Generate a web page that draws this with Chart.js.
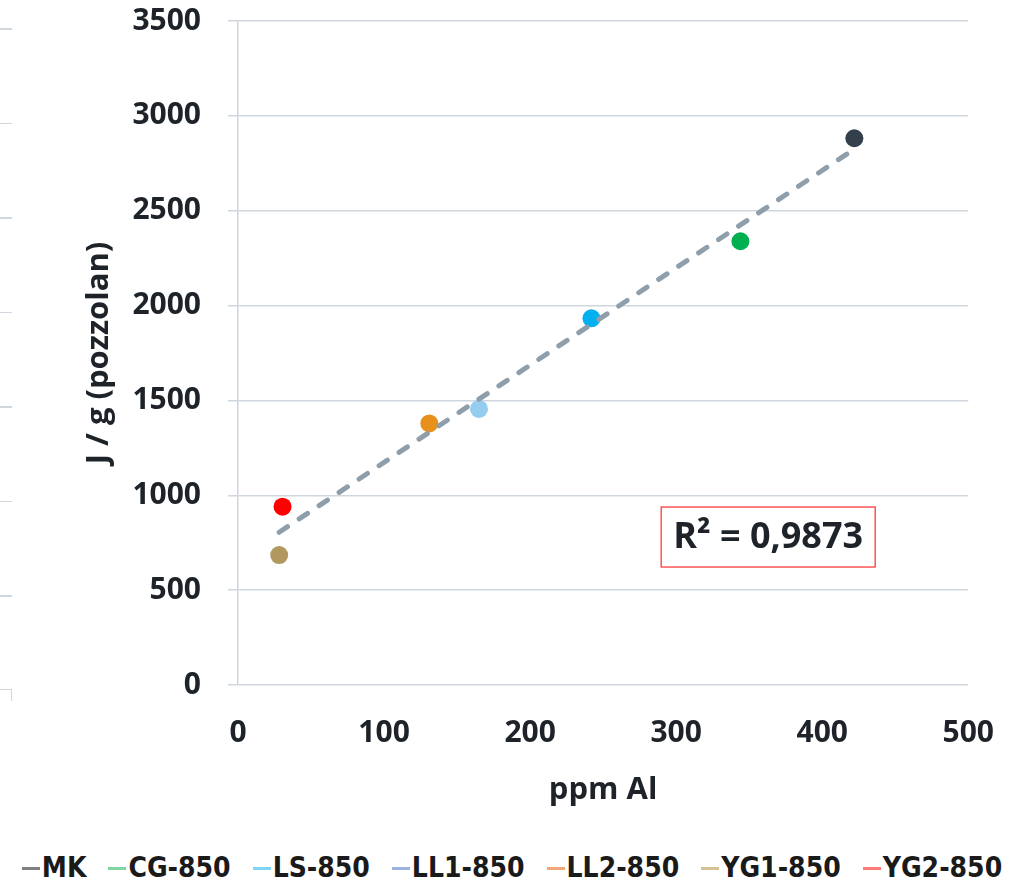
<!DOCTYPE html>
<html>
<head>
<meta charset="utf-8">
<script src="https://cdn.jsdelivr.net/npm/chart.js@4/dist/chart.umd.min.js"></script>
<style>
  body { margin: 0; background: #fff; }
  #wrap { position: relative; width: 1024px; height: 887px; overflow: hidden; }
  #chart { position: absolute; left: 0; top: -24px; }
  /* edge of the neighbouring panel */
  #edge { position: absolute; left: 0; top: 28px; width: 12px; height: 662px;
          background: repeating-linear-gradient(to bottom, #cfd6dd 0 1.5px, transparent 1.5px 94.5px); }
  #edge-corner { position: absolute; left: 0; top: 689px; width: 11px; height: 11px;
          border-top: 1.5px solid #cfd6dd; border-right: 1.5px solid #cfd6dd; }
  #legend { position: absolute; left: 0; top: 850px; width: 1024px; display: flex;
            justify-content: center; gap: 22px; font-family: "DejaVu Sans", sans-serif; font-stretch: condensed;
            font-weight: bold; font-size: 28px; color: #1a1a1a; line-height: 36px; }
  #legend span.item { display: flex; align-items: center; }
  #legend span.swatch { display: inline-block; width: 18px; height: 3px; margin-right: 2px; }
</style>
</head>
<body>
<div id="wrap">
  <div id="edge"></div>
  <div id="edge-corner"></div>
  <canvas id="chart" width="1024" height="859"></canvas>
  <div id="legend"></div>
</div>
<script>
// calcined clays: aluminium content vs heat release
var samples = ['MK', 'CG-850', 'LS-850', 'LL1-850', 'LL2-850', 'YG1-850', 'YG2-850'];
var ppmAl = [422, 344, 242, 165, 131, 28.2, 30.5];
var heatJg = [2882, 2339, 1933, 1455, 1379, 685, 940];

var xTicks = [0, 100, 200, 300, 400, 500];
var yTicks = [0, 500, 1000, 1500, 2000, 2500, 3000, 3500];

var pointColors = ['#333f4a', '#00b050', '#00b0f0', '#95cdef', '#e8901c', '#b0985e', '#ff0000'];
var legendColors = ['#808080', '#7fd6a0', '#80d4f6', '#9bb3e3', '#f0a878', '#d4c392', '#ff7b7b'];

var textColor = '#1e2329';
var gridColor = '#cfd6dd';
var fitLabelAt = [363, 780];

// least squares fit of heat against ppm Al
function linearFit(xs, ys) {
  var n = xs.length, mx = 0, my = 0;
  for (var i = 0; i < n; i++) { mx += xs[i]; my += ys[i]; }
  mx /= n; my /= n;
  var sxy = 0, sxx = 0, syy = 0;
  for (var i = 0; i < n; i++) {
    sxy += (xs[i] - mx) * (ys[i] - my);
    sxx += (xs[i] - mx) * (xs[i] - mx);
    syy += (ys[i] - my) * (ys[i] - my);
  }
  var slope = sxy / sxx;
  return { slope: slope, intercept: my - slope * mx, r2: (sxy * sxy) / (sxx * syy) };
}

var fit = linearFit(ppmAl, heatJg);
var xMin = Math.min.apply(null, ppmAl);
var xMax = Math.max.apply(null, ppmAl);

var datasets = [];
datasets.push({
  label: 'trend',
  type: 'line',
  data: [
    { x: xMin, y: fit.intercept + fit.slope * xMin },
    { x: xMax, y: fit.intercept + fit.slope * xMax }
  ],
  borderColor: '#8e9eab',
  borderWidth: 5,
  borderDash: [10, 14],
  borderCapStyle: 'round',
  pointRadius: 0,
  order: 0
});
for (var i = 0; i < samples.length; i++) {
  datasets.push({
    label: samples[i],
    data: [{ x: ppmAl[i], y: heatJg[i] }],
    backgroundColor: pointColors[i],
    borderWidth: 0,
    pointRadius: 9,
    order: 1
  });
}

// boxed R² of the fit
var r2Label = {
  id: 'r2Label',
  afterDraw: function(chart) {
    var ctx = chart.ctx;
    var cx = chart.scales.x.getPixelForValue(fitLabelAt[0]);
    var cy = chart.scales.y.getPixelForValue(fitLabelAt[1]);
    var w = 214, h = 60;
    ctx.save();
    ctx.fillStyle = '#ffffff';
    ctx.fillRect(cx - w / 2, cy - h / 2, w, h);
    ctx.strokeStyle = '#ff2a2a';
    ctx.lineWidth = 1.2;
    ctx.strokeRect(cx - w / 2, cy - h / 2, w, h);
    ctx.fillStyle = textColor;
    ctx.font = 'bold 36px "Open Sans"';
    ctx.textAlign = 'center';
    ctx.textBaseline = 'middle';
    ctx.fillText('R\u00b2 = ' + fit.r2.toFixed(4).replace('.', ','), cx, cy + 1);
    ctx.restore();
  }
};

function plainNumber(value) {
  return String(value);
}

var chart = new Chart(document.getElementById('chart').getContext('2d'), {
  type: 'scatter',
  data: { datasets: datasets },
  options: {
    responsive: false,
    animation: false,
    devicePixelRatio: 1,
    layout: { padding: { top: 0, right: 54, left: 0, bottom: 0 } },
    plugins: {
      legend: { display: false },
      tooltip: { enabled: false }
    },
    scales: {
      x: {
        type: 'linear',
        min: 0,
        max: 500,
        afterBuildTicks: function(scale) { scale.ticks = xTicks.map(function(v) { return { value: v }; }); },
        afterFit: function(scale) { scale.height = 150; },
        grid: { display: false, drawTicks: false },
        border: { display: false },
        ticks: { color: textColor, padding: 30, callback: plainNumber,
                 font: { family: 'Open Sans', size: 30, weight: 'bold' } },
        title: {
          display: true,
          text: 'ppm Al',
          color: textColor,
          padding: { top: 0, bottom: 26 },
          font: { family: 'Open Sans', size: 31, weight: 'bold' }
        }
      },
      y: {
        type: 'linear',
        min: 0,
        max: 3500,
        afterBuildTicks: function(scale) { scale.ticks = yTicks.map(function(v) { return { value: v }; }); },
        afterFit: function(scale) { scale.width = 238; },
        grid: { color: gridColor, lineWidth: 1.5, drawTicks: true, tickLength: 10 },
        border: { display: true, color: gridColor, width: 1.5 },
        ticks: { color: textColor, padding: 27, callback: plainNumber,
                 font: { family: 'Open Sans', size: 30, weight: 'bold' } },
        title: {
          display: true,
          text: 'J / g (pozzolan)',
          color: textColor,
          padding: { top: 81, bottom: 0 },
          font: { family: 'Open Sans', size: 31, weight: 'bold' }
        }
      }
    }
  },
  plugins: [r2Label]
});

// legend row built from the sample datasets
var legend = document.getElementById('legend');
for (var i = 0; i < samples.length; i++) {
  var item = document.createElement('span');
  item.className = 'item';
  var sw = document.createElement('span');
  sw.className = 'swatch';
  sw.style.background = legendColors[i];
  item.appendChild(sw);
  item.appendChild(document.createTextNode(samples[i]));
  legend.appendChild(item);
}
</script>
</body>
</html>
